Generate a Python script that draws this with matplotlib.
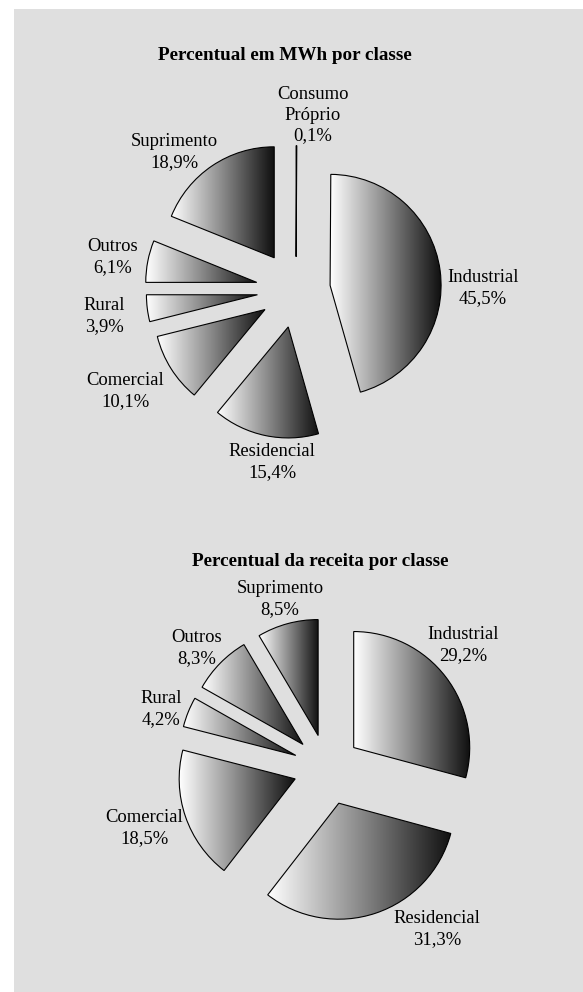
import numpy as np
import matplotlib
matplotlib.use('Agg')
import matplotlib.pyplot as plt
from matplotlib.patches import Rectangle
from matplotlib.colors import LinearSegmentedColormap

plt.rcParams['font.family'] = ['Liberation Serif', 'DejaVu Serif']

# dados - percentual em MWh por classe
mwh_labels = ['Consumo\nPróprio', 'Industrial', 'Residencial', 'Comercial', 'Rural', 'Outros', 'Suprimento']
mwh_values = [0.1, 45.5, 15.4, 10.1, 3.9, 6.1, 18.9]

# dados - percentual da receita por classe
rec_labels = ['Industrial', 'Residencial', 'Comercial', 'Rural', 'Outros', 'Suprimento']
rec_values = [29.2, 31.3, 18.5, 4.2, 8.3, 8.5]

W, H = 583, 992
fig = plt.figure(figsize=(W / 100, H / 100), dpi=100)
fig.patch.set_facecolor('white')
fig.patches.append(Rectangle((14 / W, 0), 1 - 14 / W, 1 - 9 / H, transform=fig.transFigure,
                             facecolor='#dfdfdf', edgecolor='none', zorder=-1))

# eixo em pixels (y para cima)
ax = fig.add_axes([0, 0, 1, 1])
ax.patch.set_alpha(0)

cmap = LinearSegmentedColormap.from_list('cinza', ['#ffffff', '#8a8a8a', '#101010'])
grad = np.linspace(0, 1, 256).reshape(1, -1)


def fmt(label, v):
    return f'{label}\n{v:.1f}%'.replace('.', ',')


def pie_gradiente(values, center, radius, explode):
    # explode do matplotlib e em unidades de dados -> escala pelo raio
    expl = [e * radius for e in explode]
    wedges, _ = ax.pie(values, explode=expl, startangle=90, counterclock=False,
                       center=center, radius=radius, frame=True)
    for w in wedges:
        w.set_facecolor('none')
        w.set_edgecolor('black')
        w.set_linewidth(0.8)
        w.set_zorder(3)
        ext = w.get_path().get_extents()
        im = ax.imshow(grad, cmap=cmap, extent=(ext.x0, ext.x1, ext.y0, ext.y1),
                       aspect='auto', zorder=2, interpolation='bilinear')
        im.set_clip_path(w)
    return wedges


def txt(px, py, s, size=13.4, **kw):
    ax.text(px, H - py, s, ha='center', va='center', fontsize=size, linespacing=1.3, **kw)


# grafico 1
pie_gradiente(mwh_values, (296, H - 290), 111, [0.30, 0.31, 0.34, 0.33, 0.35, 0.36, 0.35])
txt(285, 56, 'Percentual em MWh por classe', size=13.8, fontweight='bold')
pos1 = [(313, 115), (483, 288), (272, 462), (125, 391), (104, 316), (113, 257), (174, 152)]
for lab, v, (px, py) in zip(mwh_labels, mwh_values, pos1):
    txt(px, py, fmt(lab, v))

# grafico 2
pie_gradiente(rec_values, (327, H - 768), 116, [0.29, 0.32, 0.29, 0.29, 0.29, 0.29])
txt(320, 562, 'Percentual da receita por classe', size=13.8, fontweight='bold')
pos2 = [(463, 645), (437, 929), (144, 828), (161, 709), (197, 648), (280, 599)]
for lab, v, (px, py) in zip(rec_labels, rec_values, pos2):
    txt(px, py, fmt(lab, v))

ax.set_xlim(0, W)
ax.set_ylim(0, H)
ax.set_aspect('auto')
ax.axis('off')

fig.savefig('out.png', dpi=100, facecolor=fig.get_facecolor())
